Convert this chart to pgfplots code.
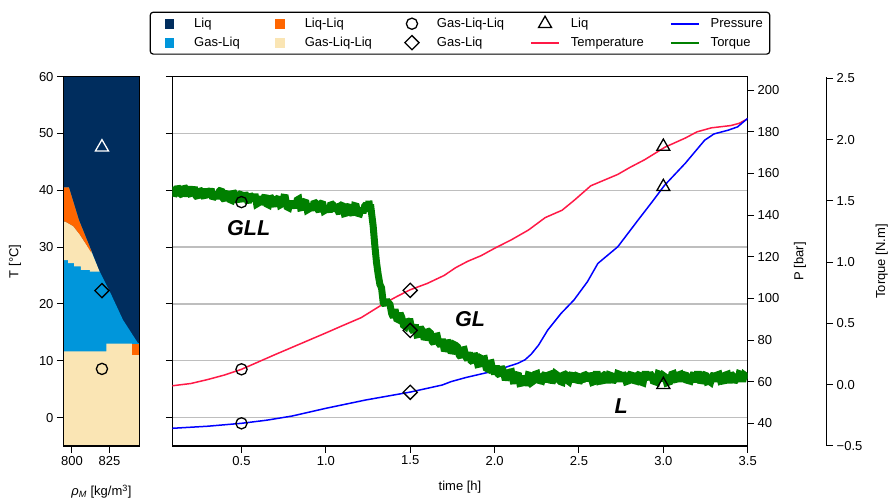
\documentclass[border=0pt]{standalone}
\usepackage{fontspec}
\setmainfont{Liberation Sans}
\usepackage{pgfplots}
\pgfplotsset{compat=1.18}
\definecolor{cliq}{RGB}{0,45,94}
\definecolor{cgl}{RGB}{0,150,219}
\definecolor{cll}{RGB}{255,102,0}
\definecolor{cgll}{RGB}{250,229,180}
\definecolor{tcol}{RGB}{255,25,70}
\definecolor{pcol}{RGB}{0,0,255}
\definecolor{qcol}{RGB}{0,128,0}
\definecolor{cgrid}{RGB}{190,190,190}
\newcommand{\fs}{\fontsize{13}{15}\selectfont}
\pgfplotsset{
  every axis/.append style={
    scale only axis,
    /pgf/number format/assume math mode=true,
    tick label style={font=\fs},
    tick align=outside,
    major tick length=6.5pt,
    every tick/.style={black, line width=1pt},
    axis line style={line width=1.1pt},
  },
  legmark/.style={legend image code/.code={\path[draw=none,fill=none] (0pt,-5pt) rectangle (28pt,5pt);\draw[##1] plot coordinates {(14pt,0pt)};}},
  mko/.style={only marks, mark=o, mark size=5.6pt, black, line width=1.3pt},
  mkd/.style={only marks, mark=square, mark size=5pt, mark options={rotate=45}, black, line width=1.3pt},
  mkt/.style={only marks, mark=triangle, mark size=7.5pt, black, line width=1.3pt},
}
\begin{document}
\begin{tikzpicture}
\useasboundingbox (0pt,0pt) rectangle (889pt,498pt);

% ---------- left panel: phase diagram ----------
\begin{axis}[
  at={(63.5pt,52pt)}, anchor=south west, width=76pt, height=369.3pt,
  xmin=794.4, xmax=845, ymin=-5, ymax=60,
  xtick={800,825}, ytick={0,10,...,60},
  xtick pos=left, ytick pos=left,
  axis on top,
  xlabel={\textit{ρ}\textsubscript{\textit{M}} [kg/m\textsuperscript{3}]},
  ylabel={T [°C]},
  every axis x label/.style={at={(rel axis cs:0.5,0)}, anchor=center, yshift=-45.7pt, font=\fs},
  every axis y label/.style={at={(rel axis cs:0,0.5)}, rotate=90, anchor=center, yshift=48.5pt, font=\fs},
]
\addplot[fill=cliq, draw=none] coordinates {(794.4,-5) (845,-5) (845,60) (794.4,60)} -- cycle;
\addplot[fill=cgl, draw=none] coordinates {(794.4,-5) (794.4,40.5) (798,40.5) (804.6,34.8) (813,29.3) (817.9,26.0) (825.2,22.2) (834,17.2) (844,13.1) (845,13.1) (845,-5)} -- cycle;
\addplot[fill=cgll, draw=none] coordinates {(794.4,34.5) (795.6,34.5) (800.9,33.7) (805.3,32.2) (809.7,30.4) (813,29.2) (818.4,25.7) (812,25.7) (812,26.0) (806,26.0) (806,26.6) (801.5,26.6) (801.5,27.2) (797.5,27.2) (797.5,27.7) (794.4,27.7)} -- cycle;
\addplot[fill=cll, draw=none] coordinates {(794.4,40.5) (798,40.5) (804.6,34.8) (813,29.3) (813,29.0) (809.7,30.4) (805.3,32.2) (800.9,33.7) (795.6,34.5) (794.4,34.5)} -- cycle;
\addplot[fill=cgll, draw=none] coordinates {(794.4,-5) (794.4,11.67) (822.9,11.67) (822.9,13.0) (840,13.0) (840,11.1) (845,11.1) (845,-5)} -- cycle;
\addplot[fill=cll, draw=none] coordinates {(840,11.1) (845,11.1) (845,13.0) (840,13.0)} -- cycle;
\addplot[mkt, white] coordinates {(820,47.6)};
\addplot[mkd] coordinates {(820,22.35)};
\addplot[mko] coordinates {(820,8.57)};
\end{axis}

% ---------- main axis: temperature ----------
\begin{axis}[
  at={(172.3pt,52pt)}, anchor=south west, width=575.4pt, height=369.3pt,
  xmin=0.09, xmax=3.5, ymin=-5, ymax=60,
  xtick={0.5,1.0,1.5,2.0,2.5,3.0,3.5}, ytick={0,10,...,60},
  yticklabels={},
  xtick pos=left, ytick pos=left,
  ymajorgrids, grid style={cgrid, line width=1.3pt},
  xticklabel style={/pgf/number format/.cd, fixed, fixed zerofill, precision=1},
  xlabel={time [h]},
  every axis x label/.style={at={(rel axis cs:0.5,0)}, anchor=center, yshift=-41.5pt, font=\fs},
  legend columns=5,
  legend cell align=left,
  legend style={at={(0.5,1)}, anchor=south, yshift=22pt, draw=black, line width=1.2pt,
    rounded corners=3pt, font=\fs, inner xsep=5pt, inner ysep=4pt, row sep=4pt,
    /tikz/every odd column/.append style={column sep=9pt},
    /tikz/every even column/.append style={column sep=24pt}},
]
\addlegendimage{legmark, only marks, mark=square*, mark size=4.2pt, cliq, line width=0.5pt}
\addlegendentry{Liq}
\addlegendimage{legmark, only marks, mark=square*, mark size=4.2pt, cll, line width=0.5pt}
\addlegendentry{Liq-Liq}
\addlegendimage{legmark, mko}
\addlegendentry{Gas-Liq-Liq}
\addlegendimage{legmark, mkt}
\addlegendentry{Liq}
\addlegendimage{legend image code/.code={\path[draw=none,fill=none] (0pt,-5pt) rectangle (28pt,5pt);\draw[pcol, line width=1.8pt] (0pt,0pt) -- (28pt,0pt);}}
\addlegendentry{Pressure}
\addlegendimage{legmark, only marks, mark=square*, mark size=4.2pt, cgl, line width=0.5pt}
\addlegendentry{Gas-Liq}
\addlegendimage{legmark, only marks, mark=square*, mark size=4.2pt, cgll, line width=0.5pt}
\addlegendentry{Gas-Liq-Liq}
\addlegendimage{legmark, mkd}
\addlegendentry{Gas-Liq}
\addlegendimage{legend image code/.code={\path[draw=none,fill=none] (0pt,-5pt) rectangle (28pt,5pt);\draw[tcol, line width=1.8pt] (0pt,0pt) -- (28pt,0pt);}}
\addlegendentry{Temperature}
\addlegendimage{legend image code/.code={\path[draw=none,fill=none] (0pt,-5pt) rectangle (28pt,5pt);\draw[qcol, line width=1.8pt] (0pt,0pt) -- (28pt,0pt);}}
\addlegendentry{Torque}
\addplot[tcol, line width=1.5pt, forget plot] coordinates {
(0.09,5.6) (0.2,6.0) (0.3,6.7) (0.4,7.5) (0.5,8.5) (0.6,9.8) (0.7,11.1) (0.85,13.0)
(1.0,14.9) (1.1,16.2) (1.21,17.6) (1.34,20.0) (1.42,21.3) (1.5,22.5) (1.6,23.6) (1.7,25.0)
(1.77,26.4) (1.84,27.5) (1.92,28.5) (2.0,29.8) (2.1,31.3) (2.2,33.0) (2.3,35.2) (2.4,36.5)
(2.47,38.2) (2.57,40.8) (2.65,41.8) (2.73,42.8) (2.8,44.0) (2.89,45.4) (2.95,46.5) (3.01,47.6)
(3.07,48.4) (3.13,49.2) (3.2,50.3) (3.285,51.0) (3.4,51.4) (3.45,51.8) (3.5,52.6)};
\addplot[mko, forget plot] coordinates {(0.5,8.5)};
\addplot[mkd, forget plot] coordinates {(1.5,22.4)};
\addplot[mkt, forget plot] coordinates {(3.0,47.7)};
\node[font=\fontsize{21.5}{24}\selectfont\bfseries\itshape] at (axis cs:0.543,33.3) {GLL};
\node[font=\fontsize{21.5}{24}\selectfont\bfseries\itshape] at (axis cs:1.854,17.35) {GL};
\node[font=\fontsize{21.5}{24}\selectfont\bfseries\itshape] at (axis cs:2.75,1.94) {L};
\end{axis}

% ---------- pressure axis ----------
\begin{axis}[
  at={(172.3pt,52pt)}, anchor=south west, width=575.4pt, height=369.3pt,
  xmin=0.09, xmax=3.5, ymin=29.1, ymax=206.5,
  hide x axis, axis y line*=right,
  ytick={40,60,...,200},
  ylabel={P [bar]},
  every axis y label/.style={at={(rel axis cs:1,0.5)}, rotate=90, anchor=center, yshift=-52.3pt, font=\fs},
]
\addplot[pcol, line width=1.5pt] coordinates {
(0.09,37.6) (0.3,38.6) (0.5,40.0) (0.65,41.5) (0.8,43.5) (1.0,47.2) (1.236,51.2) (1.5,55.0)
(1.69,58.4) (1.741,60.0) (1.83,62.0) (2.0,65.2) (2.137,68.8) (2.18,70.5) (2.217,73.2) (2.26,77.5)
(2.315,84.8) (2.394,92.8) (2.47,99.2) (2.55,108.0) (2.612,116.8) (2.73,124.8) (2.85,137.6)
(2.93,146.0) (3.008,154.4) (3.13,164.9) (3.245,176.0) (3.3,179.0) (3.384,180.8) (3.44,182.4) (3.5,186.5)};
\addplot[mko] coordinates {(0.5,40.0)};
\addplot[mkd] coordinates {(1.5,54.9)};
\addplot[mkt] coordinates {(3.0,153.6)};
\end{axis}

% ---------- torque data ----------
\begin{axis}[
  at={(172.3pt,52pt)}, anchor=south west, width=575.4pt, height=369.3pt,
  xmin=0.09, xmax=3.5, ymin=-0.5, ymax=2.513,
  hide axis,
]
\addplot[qcol, line width=7pt, line join=miter, miter limit=1.8] coordinates {
(0.09,1.615) (0.10,1.544) (0.11,1.563) (0.12,1.617) (0.13,1.591) (0.14,1.555) (0.15,1.544) (0.16,1.618)
(0.17,1.598) (0.18,1.537) (0.19,1.616) (0.20,1.560) (0.21,1.564) (0.22,1.613) (0.23,1.542) (0.24,1.526)
(0.25,1.595) (0.26,1.578) (0.27,1.547) (0.28,1.525) (0.29,1.599) (0.30,1.532) (0.31,1.560) (0.32,1.599)
(0.33,1.517) (0.34,1.536) (0.35,1.569) (0.36,1.517) (0.37,1.581) (0.38,1.594) (0.39,1.523) (0.40,1.506)
(0.41,1.554) (0.42,1.573) (0.43,1.511) (0.44,1.505) (0.45,1.578) (0.46,1.556) (0.47,1.520) (0.48,1.493)
(0.49,1.552) (0.50,1.565) (0.51,1.493) (0.52,1.566) (0.53,1.530) (0.54,1.483) (0.55,1.551) (0.56,1.534)
(0.57,1.498) (0.58,1.556) (0.59,1.474) (0.60,1.482) (0.61,1.536) (0.62,1.469) (0.63,1.517) (0.64,1.545)
(0.65,1.474) (0.66,1.467) (0.67,1.536) (0.68,1.519) (0.69,1.488) (0.70,1.456) (0.71,1.515) (0.72,1.528)
(0.73,1.467) (0.74,1.475) (0.75,1.529) (0.76,1.527) (0.77,1.451) (0.78,1.444) (0.79,1.498) (0.80,1.451)
(0.81,1.475) (0.82,1.443) (0.83,1.507) (0.84,1.515) (0.85,1.443) (0.86,1.446) (0.87,1.490) (0.88,1.503)
(0.89,1.426) (0.90,1.434) (0.91,1.473) (0.92,1.421) (0.93,1.494) (0.94,1.482) (0.95,1.436) (0.96,1.414)
(0.97,1.477) (0.98,1.490) (0.99,1.419) (1.00,1.427) (1.01,1.450) (1.02,1.408) (1.03,1.482) (1.04,1.470)
(1.05,1.414) (1.06,1.473) (1.07,1.426) (1.08,1.395) (1.09,1.464) (1.10,1.473) (1.11,1.396) (1.12,1.400)
(1.13,1.449) (1.14,1.463) (1.15,1.411) (1.16,1.385) (1.17,1.461) (1.18,1.457) (1.19,1.398) (1.20,1.394)
(1.21,1.440) (1.22,1.401) (1.23,1.457) (1.24,1.473) (1.25,1.414) (1.255,1.500) (1.26,1.440) (1.265,1.470)
(1.27,1.410) (1.28,1.300) (1.29,1.140) (1.30,1.000) (1.31,0.900) (1.32,0.820)
(1.33,0.790) (1.34,0.670) (1.35,0.650) (1.36,0.690) (1.37,0.670) (1.38,0.655) (1.39,0.580) (1.40,0.550)
(1.41,0.615) (1.42,0.537) (1.43,0.530) (1.44,0.583) (1.45,0.550) (1.46,0.485) (1.47,0.475) (1.48,0.527)
(1.49,0.515) (1.50,0.515) (1.51,0.450) (1.52,0.432) (1.53,0.490) (1.54,0.407) (1.55,0.410) (1.56,0.468)
(1.57,0.446) (1.58,0.389) (1.59,0.387) (1.60,0.445) (1.61,0.433) (1.62,0.421) (1.63,0.354) (1.64,0.337)
(1.65,0.395) (1.66,0.398) (1.67,0.336) (1.68,0.319) (1.69,0.372) (1.70,0.295) (1.71,0.293) (1.72,0.361)
(1.73,0.334) (1.74,0.277) (1.75,0.275) (1.76,0.328) (1.77,0.321) (1.78,0.309) (1.79,0.242) (1.80,0.225)
(1.81,0.284) (1.82,0.287) (1.83,0.226) (1.84,0.204) (1.85,0.263) (1.86,0.196) (1.87,0.185) (1.88,0.253)
(1.89,0.227) (1.90,0.165) (1.91,0.168) (1.92,0.216) (1.93,0.209) (1.94,0.212) (1.95,0.135) (1.96,0.128)
(1.97,0.176) (1.98,0.179) (1.99,0.117) (2.00,0.090) (2.01,0.154) (2.02,0.088) (2.03,0.077) (2.04,0.146)
(2.05,0.120) (2.06,0.059) (2.07,0.058) (2.08,0.112) (2.09,0.101) (2.10,0.105) (2.11,0.031) (2.12,0.032)
(2.13,0.078) (2.14,0.094) (2.15,0.010) (2.16,0.013) (2.17,0.072) (2.18,0.016) (2.19,0.015) (2.20,0.080)
(2.21,0.076) (2.22,0.020)
(2.23,0.030) (2.24,0.085) (2.25,0.090) (2.26,0.020) (2.27,0.035) (2.28,0.030) (2.29,0.075) (2.30,0.090)
(2.31,0.020) (2.32,0.080) (2.33,0.085) (2.34,0.015) (2.35,0.045) (2.36,0.090) (2.37,0.080) (2.38,0.040)
(2.39,0.025) (2.40,0.020) (2.41,0.095) (2.42,0.085) (2.43,0.035) (2.44,0.025) (2.45,0.070) (2.46,0.095)
(2.47,0.020) (2.48,0.075) (2.49,0.085) (2.50,0.015) (2.51,0.040) (2.52,0.025) (2.53,0.090) (2.54,0.080)
(2.55,0.030) (2.56,0.090) (2.57,0.065) (2.58,0.020) (2.59,0.025) (2.60,0.085) (2.61,0.085) (2.62,0.030)
(2.63,0.035) (2.64,0.015) (2.65,0.080) (2.66,0.090) (2.67,0.015) (2.68,0.080) (2.69,0.075) (2.70,0.020)
(2.71,0.045) (2.72,0.030) (2.73,0.090) (2.74,0.085) (2.75,0.025) (2.76,0.095) (2.77,0.070) (2.78,0.025)
(2.79,0.030) (2.80,0.080) (2.81,0.095) (2.82,0.020) (2.83,0.035) (2.84,0.030) (2.85,0.080) (2.86,0.090)
(2.87,0.020) (2.88,0.015) (2.89,0.085) (2.90,0.085) (2.91,0.040) (2.92,0.095) (2.93,0.075) (2.94,0.030)
(2.95,0.025) (2.96,0.020) (2.97,0.090) (2.98,0.085) (2.99,0.030) (3.00,0.075) (3.01,0.065) (3.02,0.015)
(3.03,0.020) (3.04,0.025) (3.05,0.085) (3.06,0.090) (3.07,0.045) (3.08,0.030) (3.09,0.080) (3.10,0.085)
(3.11,0.025) (3.12,0.080) (3.13,0.095) (3.14,0.020) (3.15,0.035) (3.16,0.030) (3.17,0.070) (3.18,0.095)
(3.19,0.020) (3.20,0.085) (3.21,0.085) (3.22,0.015) (3.23,0.040) (3.24,0.080) (3.25,0.090) (3.26,0.025)
(3.27,0.030) (3.28,0.020) (3.29,0.065) (3.30,0.090) (3.31,0.025) (3.32,0.080) (3.33,0.085) (3.34,0.030)
(3.35,0.035) (3.36,0.015) (3.37,0.080) (3.38,0.085) (3.39,0.015) (3.40,0.090) (3.41,0.075) (3.42,0.020)
(3.43,0.045) (3.44,0.030) (3.45,0.090) (3.46,0.085) (3.47,0.025) (3.48,0.080) (3.49,0.070) (3.50,0.050)};
\addplot[mko] coordinates {(0.5,1.49)};
\addplot[mkd] coordinates {(1.5,0.443)};
\addplot[mkt] coordinates {(3.0,0.0)};
\end{axis}

% ---------- torque spine ----------
\begin{axis}[
  at={(825.7pt,52pt)}, anchor=south west, width=1pt, height=369.3pt,
  xmin=0, xmax=1, ymin=-0.5, ymax=2.513,
  hide x axis, axis y line*=right,
  ytick={-0.5,0,0.5,1,1.5,2,2.5},
  yticklabels={−0.5,0.0,0.5,1.0,1.5,2.0,2.5},
  ylabel={Torque [N.m]},
  every axis y label/.style={at={(rel axis cs:1,0.5)}, rotate=90, anchor=center, yshift=-55pt, font=\fs},
]
\end{axis}
\end{tikzpicture}
\end{document}
